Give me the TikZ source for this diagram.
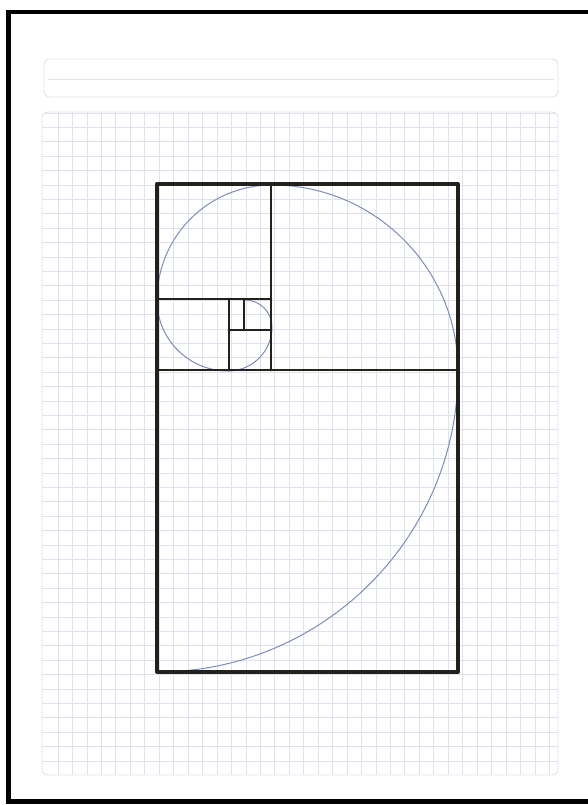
\documentclass[tikz,border=0pt]{standalone}
\definecolor{inkc}{RGB}{36,32,28}
\definecolor{gridc}{RGB}{222,226,236}
\definecolor{framec}{RGB}{225,227,232}
\definecolor{spiralc}{RGB}{125,140,192}
\tikzset{
  ink/.style={draw=inkc,line width=3.3pt,line cap=round,line join=round},
  inkthin/.style={draw=inkc,line width=2.8pt,line cap=round},
  gridline/.style={draw=gridc,line width=0.7pt},
  pageframe/.style={draw=framec,line width=0.9pt,rounded corners=6pt},
  spiral/.style={draw=spiralc,line width=1pt},
}
\begin{document}
\begin{tikzpicture}[x=1pt,y=-1pt]
\useasboundingbox (0,0) rectangle (588,805);
\clip (0,0) rectangle (588,805);
\fill[white] (0,0) rectangle (588,805);
% outer border
\draw[black,line width=4.5pt] (8.5,12) rectangle (700,801.5);
% header bar
\draw[pageframe] (44,59) rectangle (558,97);
\draw[draw=framec,line width=0.8pt] (48,79) -- (554,79);
% grid area
\begin{scope}
  \clip[rounded corners=6pt] (42,112) rectangle (558,775);
  \foreach \i in {0,...,34} {
    \draw[gridline] ({58+14.45*\i},112) -- ({58+14.45*\i},775);
  }
  \foreach \j in {0,...,45} {
    \draw[gridline] (42,{113+14.4*\j}) -- (558,{113+14.4*\j});
  }
\end{scope}
\draw[pageframe] (42,112) rectangle (558,775);
% spiral
\draw[spiral] (157,672) arc[start angle=90,end angle=0,radius=301]
  arc[start angle=0,end angle=-90,radius=186]
  arc[start angle=-90,end angle=-180,radius=115]
  arc[start angle=-180,end angle=-270,radius=71]
  arc[start angle=-270,end angle=-360,radius=44]
  arc[start angle=-360,end angle=-450,radius=27];
% golden rectangles
\draw[ink] (157,184) rectangle (458,672);
\draw[inkthin] (157,370) -- (458,370);
\draw[inkthin] (271,184) -- (271,370);
\draw[inkthin] (157,299) -- (271,299);
\draw[inkthin] (229,299) -- (229,370);
\draw[inkthin] (229,330) -- (271,330);
\draw[inkthin] (244,299) -- (244,330);
\end{tikzpicture}
\end{document}
